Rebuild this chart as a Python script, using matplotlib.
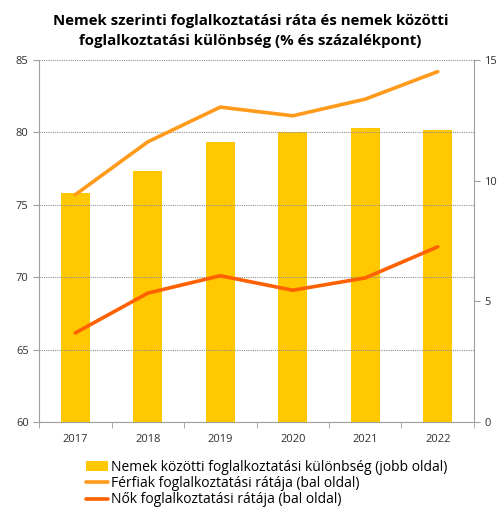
import numpy as np
import matplotlib
matplotlib.use("Agg")
import matplotlib.pyplot as plt

# Employment rates by sex (left axis) and gender gap (right axis)
years = ["2017", "2018", "2019", "2020", "2021", "2022"]
gap = [9.5, 10.4, 11.6, 12.0, 12.2, 12.1]
men = [75.7, 79.35, 81.75, 81.15, 82.3, 84.2]
women = [66.15, 68.9, 70.1, 69.1, 69.95, 72.1]

plt.rcParams['font.family'] = ['Open Sans', 'DejaVu Sans']

fig = plt.figure(figsize=(5.01, 5.09), dpi=100)
ax = fig.add_axes([0.078, 0.171, 0.868, 0.711])
ax2 = ax.twinx()

x = np.arange(len(years))

# bars on the right axis, drawn behind the lines
ax2.bar(x, gap, width=0.4, color='#FFC800', zorder=1,
        label='Nemek közötti foglalkoztatási különbség (jobb oldal)')
ax2.set_ylim(0, 15)
ax2.set_yticks([0, 5, 10, 15])

ax.set_zorder(ax2.get_zorder() + 1)
ax.patch.set_visible(False)
l1, = ax.plot(x, men, color='#FF9A1A', lw=2.6, solid_capstyle='round',
              label='Férfiak foglalkoztatási rátája (bal oldal)')
l2, = ax.plot(x, women, color='#FF6000', lw=2.6, solid_capstyle='round',
              label='Nők foglalkoztatási rátája (bal oldal)')
ax.set_ylim(60, 85)
ax.set_yticks(range(60, 86, 5))
ax.set_xlim(-0.5, len(years) - 0.5)
ax.set_xticks(x)
ax.set_xticklabels(years)
ax.set_xticks(np.arange(-0.5, len(years)), minor=True)
ax.tick_params(axis='x', which='major', length=0, pad=9)
ax.tick_params(axis='x', which='minor', length=4, color='#A0A0A0')

ax.grid(axis='y', color='#909090', ls=(0, (1, 1)), lw=0.8)
for a in (ax, ax2):
    for s in a.spines.values():
        s.set_visible(False)
    a.tick_params(labelsize=8, colors='#303030')
ax.spines['left'].set_visible(True)
ax.spines['bottom'].set_visible(True)
ax2.spines['right'].set_visible(True)
for s in (ax.spines['left'], ax.spines['bottom'], ax2.spines['right']):
    s.set_color('#A0A0A0')
ax.tick_params(axis='y', length=4, color='#A0A0A0')
ax2.tick_params(axis='y', length=4, color='#A0A0A0')
ax.tick_params(axis='x', which='minor', color='#A0A0A0')

fig.text(0.5, 0.94, "Nemek szerinti foglalkoztatási ráta és nemek közötti\n"
         "foglalkoztatási különbség (% és százalékpont)",
         ha='center', va='center', fontsize=10.8, fontweight='bold',
         linespacing=1.55)

bars = ax2.containers[0]
fig.legend([bars, l1, l2], [bars.get_label(), l1.get_label(), l2.get_label()],
           loc='upper left', bbox_to_anchor=(0.172, 0.097), frameon=False,
           fontsize=10, handlelength=1.6, handletextpad=0.2,
           labelspacing=0.1, borderaxespad=0, borderpad=0)

fig.savefig('out.png', dpi=100)
